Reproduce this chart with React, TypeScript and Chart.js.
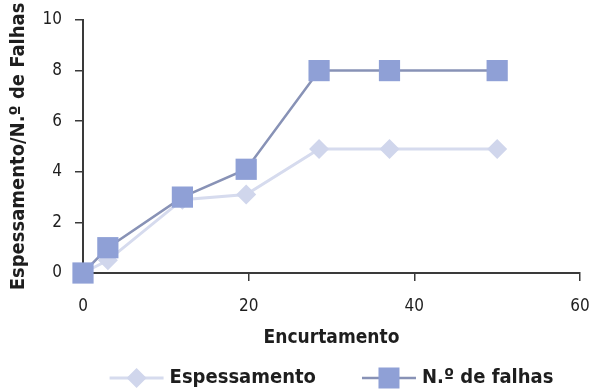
import React, { useEffect, useRef } from "react";
import { Chart, registerables } from "chart.js";

Chart.register(...registerables);

const encurtamento = [0, 3, 12, 19.7, 28.5, 37, 50];
const espessamento = [0, 0.5, 2.9, 3.1, 4.9, 4.9, 4.9];
const falhas = [0, 1, 3, 4.1, 8, 8, 8];
const seriesNames = ["Espessamento", "N.º de falhas"];
const xTitle = "Encurtamento";
const yTitle = "Espessamento/N.º de Falhas";

const FONT = "'DejaVu Sans Condensed', 'Liberation Sans Narrow', Roboto, sans-serif";
const ESP_LINE = "#d6dbee";
const ESP_FILL = "#d0d6ec";
const FAL_LINE = "#8892b6";
const FAL_FILL = "#8fa0d6";
const AXIS = "#3a3a3a";
const TEXT = "#1e1e1e";

const legendPlugin = {
  id: "lineLegend",
  afterDraw(chart: any) {
    const ctx = chart.ctx;
    const area = chart.chartArea;
    ctx.save();
    ctx.font = `bold 20px ${FONT}`;
    ctx.textBaseline = "middle";
    const lineLen = 54;
    const gapText = 6;
    const gapItems = 46;
    const w0 = ctx.measureText(seriesNames[0]).width;
    const w1 = ctx.measureText(seriesNames[1]).width;
    const total = lineLen + gapText + w0 + gapItems + lineLen + gapText + w1;
    let x = (area.left + area.right) / 2 - total / 2;
    const y = 378;
    ctx.strokeStyle = ESP_LINE;
    ctx.lineWidth = 3;
    ctx.beginPath();
    ctx.moveTo(x, y);
    ctx.lineTo(x + lineLen, y);
    ctx.stroke();
    const cx1 = x + lineLen / 2;
    ctx.fillStyle = ESP_FILL;
    ctx.beginPath();
    ctx.moveTo(cx1, y - 10);
    ctx.lineTo(cx1 + 10, y);
    ctx.lineTo(cx1, y + 10);
    ctx.lineTo(cx1 - 10, y);
    ctx.closePath();
    ctx.fill();
    x += lineLen + gapText;
    ctx.fillStyle = TEXT;
    ctx.fillText(seriesNames[0], x, y);
    x += w0 + gapItems;
    ctx.strokeStyle = FAL_LINE;
    ctx.lineWidth = 2.5;
    ctx.beginPath();
    ctx.moveTo(x, y);
    ctx.lineTo(x + lineLen, y);
    ctx.stroke();
    const cx2 = x + lineLen / 2;
    ctx.fillStyle = FAL_FILL;
    ctx.fillRect(cx2 - 10.5, y - 10.5, 21, 21);
    x += lineLen + gapText;
    ctx.fillStyle = TEXT;
    ctx.fillText(seriesNames[1], x, y);
    ctx.restore();
  },
};

export default function App() {
  const ref = useRef<HTMLCanvasElement | null>(null);

  useEffect(() => {
    if (!ref.current) return;
    const chart = new Chart(ref.current, {
      type: "line",
      data: {
        datasets: [
          {
            label: seriesNames[1],
            data: encurtamento.map((x, i) => ({ x, y: falhas[i] })),
            borderColor: FAL_LINE,
            borderWidth: 2.5,
            backgroundColor: FAL_FILL,
            pointStyle: "rect",
            pointRadius: 15,
            pointBorderWidth: 0,
            pointBackgroundColor: FAL_FILL,
            order: 0,
          },
          {
            label: seriesNames[0],
            data: encurtamento.map((x, i) => ({ x, y: espessamento[i] })),
            borderColor: ESP_LINE,
            borderWidth: 3,
            backgroundColor: ESP_FILL,
            pointStyle: "rectRot",
            pointRadius: 10,
            pointBorderWidth: 0,
            pointBackgroundColor: ESP_FILL,
            order: 1,
          },
        ],
      },
      options: {
        animation: false,
        responsive: false,
        clip: false as any,
        layout: { padding: { left: 0, right: 14, top: 20, bottom: 40 } },
        plugins: { legend: { display: false }, tooltip: { enabled: false } },
        scales: {
          x: {
            type: "linear",
            min: 0,
            max: 60,
            ticks: {
              stepSize: 20,
              color: TEXT,
              font: { family: FONT, size: 17 },
              padding: 15,
            },
            grid: {
              drawOnChartArea: false,
              drawTicks: true,
              tickLength: 8,
              color: AXIS,
              lineWidth: 1.5,
            },
            border: { color: AXIS, width: 2 },
            title: {
              display: true,
              text: xTitle,
              color: TEXT,
              font: { family: FONT, size: 19, weight: "bold" },
              padding: { top: 0, bottom: 3 },
            },
            afterFit(scale: any) {
              scale.height = 392 - 273 - 40;
              scale.paddingLeft = 0;
              scale.paddingRight = 0;
            },
          },
          y: {
            min: 0,
            max: 10,
            ticks: {
              stepSize: 2,
              color: TEXT,
              font: { family: FONT, size: 17 },
              padding: 13,
            },
            grid: {
              drawOnChartArea: false,
              drawTicks: true,
              tickLength: 8,
              color: AXIS,
              lineWidth: 1.5,
            },
            border: { color: AXIS, width: 2 },
            title: {
              display: true,
              text: yTitle,
              color: TEXT,
              font: { family: FONT, size: 20, weight: "bold" },
              padding: { top: 7, bottom: 0 },
            },
            afterFit(scale: any) {
              scale.width = 83;
              scale.paddingTop = 0;
              scale.paddingBottom = 0;
            },
          },
        },
      },
      plugins: [legendPlugin],
    });
    return () => chart.destroy();
  }, []);

  return (
    <div style={{ position: "absolute", left: 0, top: 0, width: 595, height: 392, background: "#fff" }}>
      <canvas ref={ref} width={595} height={392} />
    </div>
  );
}
